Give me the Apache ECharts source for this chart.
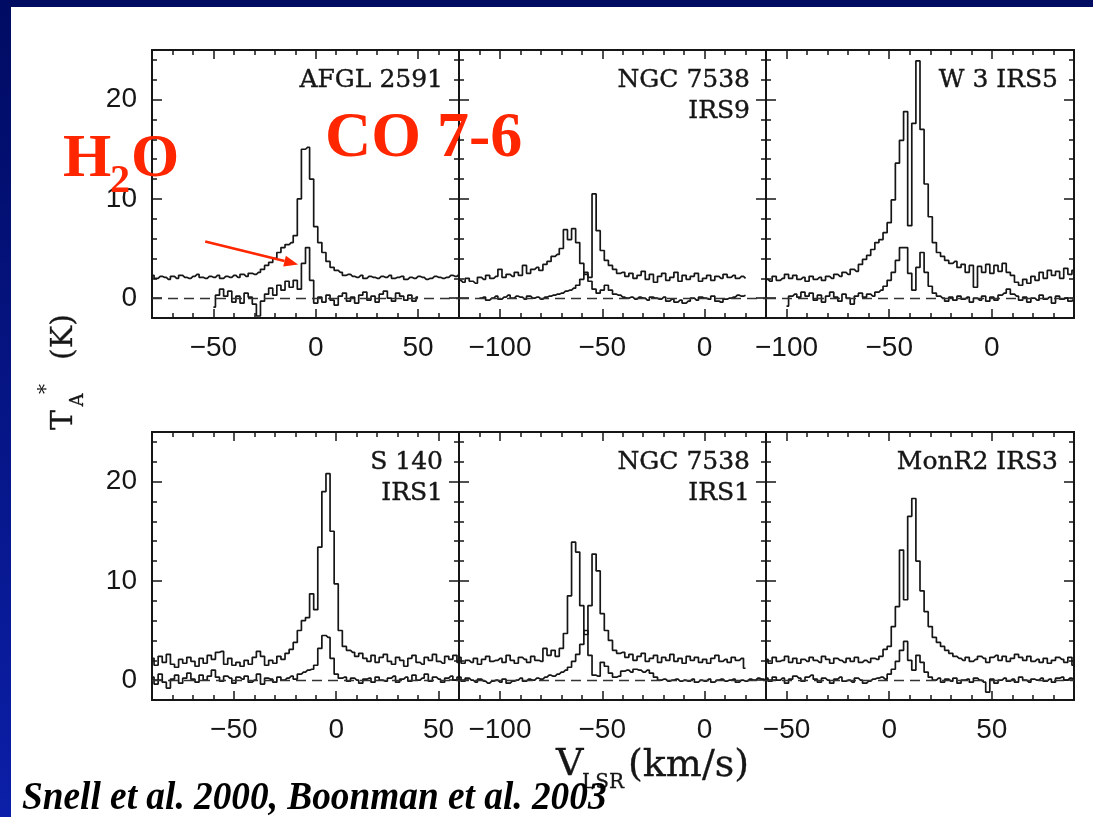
<!DOCTYPE html>
<html>
<head>
<meta charset="utf-8">
<script src="https://cdn.jsdelivr.net/npm/echarts@6/dist/echarts.min.js"></script>
<style>
  html, body { margin: 0; padding: 0; background: #000d65; }
  #chart { width: 1093px; height: 817px; }
</style>
</head>
<body>
<div id="chart"></div>
<script>
// CO 7-6 (upper trace, offset by ~2 K) and H2O (lower trace) spectra toward six
// massive young stellar objects. Antenna temperature T_A* in K, sampled on a
// regular velocity grid (km/s) that starts at the listed V_LSR.
const sourceNames = [
  ['AFGL 2591'], ['NGC 7538', 'IRS9'], ['W 3 IRS5'],
  ['S 140', 'IRS1'], ['NGC 7538', 'IRS1'], ['MonR2 IRS3']
];
const velocityRanges = [[-80, 70], [-120, 30], [-110, 40], [-90, 60], [-120, 30], [-60, 90]];
const velocityTicks = [[-50, 0, 50], [-100, -50, 0], [-100, -50, 0], [-50, 0, 50], [-100, -50, 0], [-50, 0, 50]];
const temperatureRange = [-2, 25];
const temperatureTicks = [0, 10, 20];
const channelWidth = 2;
const coStart = [-80, -120, -110, -90, -120, -60];
const h2oStart = [-50, -110, -100, -90, -120, -60];

const afglCO = [2.3, 2.0, 2.2, 2.1, 1.9, 2.2, 2.0, 2.3, 2.1, 2.0, 2.2, 2.4, 2.1, 2.0, 2.2, 2.1, 2.3, 2.0, 2.2, 2.1,
  2.3, 2.1, 2.4, 2.2, 2.5, 2.4, 2.6, 2.9, 3.3, 3.6, 4.0, 4.6, 5.1, 5.4, 5.6, 6.3, 10.0, 15.0, 15.2, 12.0,
  7.2, 5.6, 4.6, 3.7, 3.1, 2.8, 2.6, 2.3, 2.4, 2.2, 2.1, 2.3, 2.0, 2.2, 2.1, 2.0, 2.2, 2.1, 2.3, 2.0,
  2.1, 2.2, 1.9, 2.1, 2.0, 2.2, 2.1, 1.9, 2.0, 2.2, 2.1, 2.0, 2.1, 2.3, 2.2, 2.4];
const afglH2O = [-0.9, 0.3, 0.9, 0.2, 0.7, -0.4, 0.2, -0.5, 0.5, 0.1, -0.6, -1.8, -0.3, 0.4, 1.0, 0.3, 1.3, 0.8, 1.7, 1.1,
  1.8, 0.9, 3.5, 5.1, 1.8, -0.5, 0.1, -0.4, 0.3, -0.2, -0.7, 0.2, 0.5, -0.3, 0.1, -0.5, 0.3, 0.6, -0.2, 0.2,
  -0.4, 0.4, 0.7, 0.0, -0.3, 0.5, 0.2, -0.2, 0.3, -0.3, 0.1];

const irs9CO = [1.8, 1.6, 2.0, 1.7, 1.5, 2.1, 1.9, 2.3, 2.0, 2.2, 2.9, 2.1, 2.4, 2.2, 2.6, 2.3, 3.3, 2.5, 2.9, 3.1,
  2.8, 3.4, 3.7, 4.2, 4.4, 5.0, 6.9, 5.9, 7.0, 5.6, 3.5, 2.4, 2.1, 10.5, 6.8, 4.8, 3.8, 3.3, 2.9, 2.5,
  2.6, 2.2, 2.5, 2.0, 2.3, 2.7, 1.9, 2.4, 1.6, 2.2, 2.5, 1.8, 2.1, 2.6, 1.7, 2.3, 1.9, 2.2, 2.5, 1.7,
  2.0, 2.3, 1.8, 2.2, 2.0, 2.4, 2.1, 2.3, 2.0, 2.2, 2.0];
const irs9H2O = [0.0, 0.1, -0.2, 0.0, 0.2, -0.1, 0.1, 0.3, 0.0, 0.2, 0.1, -0.1, 0.2, 0.0, 0.1, -0.1, 0.1, 0.2, 0.3, 0.4,
  0.5, 0.7, 0.8, 1.0, 1.3, 1.9, 2.6, 1.7, 0.9, 0.5, 0.8, 1.3, 0.8, 0.4, 0.3, 0.1, 0.0, 0.1, -0.1, 0.1,
  0.0, -0.2, 0.1, 0.0, -0.1, 0.1, -0.3, -0.1, -0.4, -0.2, -0.5, -0.3, 0.0, -0.2, 0.1, 0.0, -0.1, 0.2, -0.3, -0.4,
  -0.1, 0.0, 0.1, 0.3, 0.2, 0.3];

const w3CO = [1.9, 1.7, 2.2, 1.8, 2.0, 2.4, 2.0, 2.3, 1.9, 2.1, 1.7, 2.2, 1.9, 2.1, 1.8, 2.2, 2.0, 2.4, 2.2, 2.6,
  2.4, 2.9, 2.7, 3.4, 3.9, 4.3, 4.9, 5.6, 5.9, 6.6, 7.6, 9.9, 13.6, 15.9, 18.8, 7.3, 17.6, 23.9, 17.0, 11.5,
  8.2, 5.6, 4.6, 4.2, 3.8, 3.5, 3.7, 3.1, 3.4, 2.6, 3.3, 1.1, 3.2, 2.6, 3.4, 2.5, 3.3, 2.7, 3.5, 2.6,
  2.3, 1.6, 1.3, 1.9, 1.5, 2.2, 1.8, 2.6, 2.0, 2.8, 2.3, 2.7, 2.0, 3.0, 2.4, 2.8];
const w3H2O = [-0.8, 0.2, 0.4, 0.1, 0.6, 0.2, 0.5, -0.2, 0.3, -0.4, 0.2, 0.6, 0.1, -0.3, 0.4, 0.0, -0.6, 0.2, 0.5, 0.1,
  0.4, 0.2, 0.6, 0.8, 1.2, 1.8, 2.6, 3.8, 5.1, 5.1, 2.5, 0.8, 3.1, 4.6, 2.6, 1.2, 0.5, 0.2, 0.0, -0.3,
  0.1, -0.2, 0.2, -0.1, 0.1, -0.4, 0.0, -0.2, 0.2, -0.3, 0.1, -0.2, 0.3, 0.5, 0.9, 0.4, 0.2, -0.2, 0.1, -0.4,
  0.0, -0.2, 0.3, -0.1, 0.1, -0.5, 0.2, -0.1, 0.0, -0.3, -0.1];

const s140CO = [2.2, 1.5, 2.4, 1.8, 2.6, 1.6, 1.3, 2.1, 1.7, 2.3, 1.9, 1.4, 2.2, 1.7, 2.5, 2.1, 2.8, 2.9, 1.6, 2.2,
  1.5, 1.8, 1.4, 2.0, 1.6, 2.3, 2.9, 2.4, 1.5, 2.0, 1.7, 2.4, 2.1, 2.7, 3.1, 3.8, 5.0, 6.0, 6.3, 8.7,
  7.1, 13.4, 19.0, 20.8, 15.0, 9.7, 5.0, 3.4, 3.0, 2.8, 2.4, 2.7, 2.2, 1.9, 2.5, 1.8, 2.3, 2.6, 1.9, 1.6,
  2.3, 2.0, 1.4, 2.2, 2.5, 1.8, 1.6, 2.3, 2.0, 2.6, 1.9, 1.7, 2.4, 2.1, 2.5, 1.8];
const s140H2O = [0.3, -0.4, 0.6, -0.2, -0.8, 0.1, 0.5, -0.3, 0.2, 0.7, 0.1, -0.2, 0.5, 0.0, 0.4, 1.0, 0.3, -0.1, 0.4, 0.2,
  -0.3, 0.3, 0.1, 0.4, -0.2, 0.0, 0.6, -0.4, 0.2, 0.1, -0.2, 0.3, 0.0, 0.2, 0.4, 0.1, 0.6, 0.8, 1.0, 1.1,
  1.5, 3.2, 4.5, 4.3, 2.2, 0.6, 0.2, 0.3, -0.1, 0.2, 0.0, -0.3, 0.1, 0.2, -0.2, 0.3, 0.0, -0.1, 0.2, 0.4,
  -0.2, 0.1, 0.3, -0.1, 0.5, 0.0, 0.2, 0.6, -0.1, 0.3, 0.1, -0.2, 0.2, 0.4, 0.0, 0.3];

const irs1CO = [2.3, 1.7, 2.0, 1.8, 2.2, 1.6, 2.1, 2.4, 1.9, 2.0, 2.2, 1.8, 2.5, 2.0, 1.7, 2.3, 2.1, 1.8, 2.4, 2.0,
  1.9, 3.2, 2.5, 3.0, 2.4, 3.2, 4.7, 8.5, 13.9, 12.9, 7.5, 4.6, 7.5, 12.7, 11.0, 6.7, 5.0, 4.0, 3.0, 2.7,
  2.8, 2.3, 2.6, 2.0, 2.4, 2.7, 1.9, 2.2, 2.5, 1.8, 2.3, 2.0, 2.6, 1.9, 2.2, 1.7, 2.4, 2.0, 2.3, 1.8,
  2.1, 1.7, 2.2, 2.5, 1.9, 2.1, 1.8, 2.3, 2.0, 2.2, 1.2];
const irs1H2O = [0.3, -0.1, 0.2, 0.0, -0.2, 0.1, -0.1, -0.3, -0.1, 0.0, -0.2, 0.1, -0.3, -0.1, 0.0, 0.2, -0.1, 0.1, 0.0, 0.2,
  0.1, 0.3, 0.5, 0.4, 0.6, 0.8, 1.0, 1.3, 1.9, 2.6, 3.6, 5.0, 2.5, 0.5, 0.4, 1.8, 1.4, 0.7, 0.3, 0.4,
  0.9, 1.0, 0.8, 1.1, 1.0, 0.8, 1.0, 0.7, 0.3, 0.0, 0.1, -0.1, 0.0, 0.1, -0.1, 0.0, -0.1, 0.1, -0.2, 0.0,
  -0.1, 0.1, -0.2, 0.0, 0.1, -0.1, 0.0, 0.1, -0.2, 0.0, -0.1, 0.1, 0.0, 0.2, 0.1, 0.0];

const monr2CO = [2.1, 1.7, 2.3, 1.9, 2.0, 2.4, 1.8, 2.2, 1.7, 2.1, 1.9, 2.3, 2.0, 1.8, 2.4, 2.1, 1.7, 2.2, 2.0, 1.8,
  2.2, 1.9, 2.3, 1.8, 2.0, 1.8, 2.2, 2.1, 2.4, 3.1, 3.4, 5.4, 7.4, 13.1, 8.1, 16.5, 18.3, 12.0, 9.0, 6.9,
  5.4, 4.3, 3.8, 3.4, 3.0, 2.7, 2.4, 2.2, 2.0, 2.3, 1.9, 2.1, 2.4, 2.2, 1.8, 2.3, 2.5, 2.0, 2.4, 1.9,
  2.2, 2.6, 2.3, 2.0, 2.4, 1.9, 2.1, 1.8, 2.2, 1.7, 2.0, 2.3, 2.1, 1.8, 2.3, 1.5];
const monr2H2O = [0.2, -0.1, 0.3, 0.0, 0.2, -0.3, 0.1, 0.4, 0.2, -0.1, 0.3, 0.5, 0.1, -0.2, 0.2, 0.0, -0.3, 0.1, 0.3, -0.1,
  0.0, -0.2, 0.2, 0.0, -0.3, -0.1, 0.1, 0.2, 0.3, 0.1, 0.6, 1.1, 1.9, 3.0, 3.9, 2.0, 1.0, 2.5, 1.8, 0.8,
  0.3, 0.0, 0.2, -0.2, 0.1, -0.1, 0.2, -0.3, 0.0, 0.1, -0.2, 0.2, 0.0, -0.2, -1.2, 0.1, -0.3, 0.0, 0.2, -0.1,
  0.1, -0.2, 0.3, 0.0, -0.2, 0.1, 0.0, 0.2, -0.1, 0.1, -0.2, 0.2, 0.3, 0.0, 0.2, 0.1];

const coSpectra = [afglCO, irs9CO, w3CO, s140CO, irs1CO, monr2CO];
const h2oSpectra = [afglH2O, irs9H2O, w3H2O, s140H2O, irs1H2O, monr2H2O];

// H2O line in AFGL 2591 that the annotation arrow points to (velocity, T)
const arrowFrom = [-54, 5.7];
const arrowTo = [-8.6, 3.4];

// ---------------------------------------------------------------------------
const ink = '#161616';
const red = '#ff2600';
const labelFont = 'DejaVu Serif';
const colLeft = [152, 459, 766];
const colWidth = [307, 307, 308];
const rowTop = [50, 432];
const panelHeight = 268;

const minus = v => (v < 0 ? '\u2212' + Math.abs(v) : String(v));
const toPairs = (start, values) => values.map((t, i) => [start + i * channelWidth, t]);

const tickLine = { color: ink, width: 1.5 };
const tickFont = { fontFamily: 'Liberation Sans', fontSize: 28, color: ink };

const grids = [], xAxes = [], yAxes = [], series = [], panelBoxes = [];

for (let i = 0; i < 6; i++) {
  const col = i % 3, row = Math.floor(i / 3);
  const box = { left: colLeft[col], top: rowTop[row], width: colWidth[col], height: panelHeight };
  panelBoxes.push(box);
  grids.push(Object.assign({ show: true, borderColor: ink, borderWidth: 2, backgroundColor: 'transparent' }, box));

  const [vMin, vMax] = velocityRanges[i];
  const xBase = { type: 'value', gridIndex: i, min: vMin, max: vMax,
    splitLine: { show: false }, axisLine: { show: false, onZero: false } };
  const yBase = { type: 'value', gridIndex: i, min: temperatureRange[0], max: temperatureRange[1],
    splitLine: { show: false }, axisLine: { show: false, onZero: false } };

  // bottom: minor ticks every 10 km/s with labels, then longer major ticks
  xAxes.push(Object.assign({}, xBase, { position: 'bottom', interval: 10,
    axisTick: { inside: true, length: 5, lineStyle: tickLine },
    axisLabel: Object.assign({ show: true, margin: 16,
      formatter: v => (velocityTicks[i].indexOf(v) >= 0 ? minus(v) : '') }, tickFont) }));
  xAxes.push(Object.assign({}, xBase, { position: 'bottom',
    axisTick: { inside: true, length: 9, customValues: velocityTicks[i], lineStyle: tickLine },
    axisLabel: { show: false } }));
  xAxes.push(Object.assign({}, xBase, { position: 'top', interval: 10,
    axisTick: { inside: true, length: 5, lineStyle: tickLine }, axisLabel: { show: false } }));
  xAxes.push(Object.assign({}, xBase, { position: 'top',
    axisTick: { inside: true, length: 9, customValues: velocityTicks[i], lineStyle: tickLine },
    axisLabel: { show: false } }));

  yAxes.push(Object.assign({}, yBase, { position: 'left', interval: 2,
    axisTick: { inside: true, length: 5, lineStyle: tickLine },
    axisLabel: Object.assign({ show: col === 0, margin: 15,
      formatter: v => (temperatureTicks.indexOf(v) >= 0 ? String(v) : '') }, tickFont) }));
  yAxes.push(Object.assign({}, yBase, { position: 'left',
    axisTick: { inside: true, length: 10, customValues: temperatureTicks, lineStyle: tickLine },
    axisLabel: { show: false } }));
  yAxes.push(Object.assign({}, yBase, { position: 'right', interval: 2,
    axisTick: { inside: true, length: 5, lineStyle: tickLine }, axisLabel: { show: false } }));
  yAxes.push(Object.assign({}, yBase, { position: 'right',
    axisTick: { inside: true, length: 10, customValues: temperatureTicks, lineStyle: tickLine },
    axisLabel: { show: false } }));

  const lineBase = { type: 'line', xAxisIndex: 4 * i, yAxisIndex: 4 * i, step: 'middle',
    showSymbol: false, symbol: 'none', silent: true, z: 3,
    lineStyle: { color: ink, width: 1.7 } };
  series.push(Object.assign({}, lineBase, { name: 'CO 7-6 ' + sourceNames[i].join(' '),
    data: toPairs(coStart[i], coSpectra[i]) }));
  series.push(Object.assign({}, lineBase, { name: 'H2O ' + sourceNames[i].join(' '),
    data: toPairs(h2oStart[i], h2oSpectra[i]),
    markLine: { silent: true, symbol: ['none', 'none'], label: { show: false },
      lineStyle: { color: '#333', type: [10, 6], width: 1.4 },
      data: [{ yAxis: 0 }] } }));
}

const chart = echarts.init(document.getElementById('chart'), null, { renderer: 'canvas' });
chart.setOption({
  animation: false,
  backgroundColor: new echarts.graphic.LinearGradient(0, 0, 0, 1, [
    { offset: 0, color: '#000b62' }, { offset: 1, color: '#0b1fa8' }
  ]),
  grid: grids,
  xAxis: xAxes,
  yAxis: yAxes,
  series: series
});

// --------------------------- annotations -----------------------------------
function text(str, x, y, opts) {
  const o = opts || {};
  const style = {
    text: str, x: 0, y: 0,
    fill: o.fill || ink,
    fontFamily: o.fontFamily || labelFont,
    fontSize: o.fontSize || 25,
    fontWeight: o.fontWeight || 'normal',
    fontStyle: o.fontStyle || 'normal',
    textAlign: o.align || 'left', align: o.align || 'left',
    textVerticalAlign: 'middle', verticalAlign: 'middle'
  };
  if (o.stroke) { style.stroke = o.stroke; style.lineWidth = o.lineWidth || 0.4; }
  return { type: 'text', x: x, y: y, rotation: o.rotation || 0,
    scaleX: o.scaleX || 1, scaleY: 1, z: 50, silent: true, style: style };
}

const graphics = [
  { type: 'rect', shape: { x: 11, y: 7, width: 1082, height: 810 },
    style: { fill: '#ffffff' }, z: -100, silent: true }
];

// source names in the upper right corner of each panel
panelBoxes.forEach((b, i) => {
  sourceNames[i].forEach((line, k) => {
    graphics.push(text(line, b.left + b.width - 16, b.top + 30 + 31 * k,
      { fontSize: 25, align: 'right', stroke: ink, lineWidth: 0.4 }));
  });
});

// axis titles: V_LSR (km/s) and T_A* (K)
graphics.push(text('V', 556, 765, { fontSize: 38, stroke: ink, lineWidth: 0.3 }));
graphics.push(text('LSR', 582, 783, { fontSize: 20, stroke: ink, lineWidth: 0.3 }));
graphics.push(text('(km/s)', 628, 766, { fontSize: 38, stroke: ink, lineWidth: 0.3 }));

const up = Math.PI / 2;
graphics.push(text('T', 64.5, 420, { fontSize: 30, align: 'center', rotation: up, stroke: ink, lineWidth: 0.3 }));
graphics.push(text('A', 78, 400, { fontSize: 18, align: 'center', rotation: up, stroke: ink, lineWidth: 0.3 }));
graphics.push(text('*', 47, 389, { fontSize: 20, align: 'center', rotation: up }));
graphics.push(text('(K)', 64.5, 337, { fontSize: 30, align: 'center', rotation: up, stroke: ink, lineWidth: 0.3 }));

// red line labels
const serifBold = { fontFamily: 'Liberation Serif', fontWeight: 'bold', fill: red };
graphics.push(text('H', 63, 160, Object.assign({ fontSize: 62 }, serifBold)));
graphics.push(text('2', 110, 181.5, Object.assign({ fontSize: 40 }, serifBold)));
graphics.push(text('O', 131, 160, Object.assign({ fontSize: 62 }, serifBold)));
graphics.push(text('CO 7-6', 325, 139.5, Object.assign({ fontSize: 64 }, serifBold)));

// reference line at the bottom
graphics.push(text('Snell et al. 2000, Boonman et al. 2003', 22, 798,
  { fontFamily: 'Liberation Serif', fontWeight: 'bold', fontStyle: 'italic', fontSize: 41, scaleX: 0.91, fill: '#000' }));

// arrow from the label area to the H2O emission peak in the first panel
const p0 = chart.convertToPixel({ gridIndex: 0 }, arrowFrom);
const p1 = chart.convertToPixel({ gridIndex: 0 }, arrowTo);
const dx = p1[0] - p0[0], dy = p1[1] - p0[1];
const len = Math.sqrt(dx * dx + dy * dy);
const ux = dx / len, uy = dy / len;
const headLen = 14, headHalf = 5.5;
const bx = p1[0] - ux * headLen, by = p1[1] - uy * headLen;
graphics.push({ type: 'line', z: 60, silent: true,
  shape: { x1: p0[0], y1: p0[1], x2: bx, y2: by },
  style: { stroke: red, lineWidth: 2.6 } });
graphics.push({ type: 'polygon', z: 60, silent: true,
  shape: { points: [[p1[0], p1[1]], [bx - uy * headHalf, by + ux * headHalf], [bx + uy * headHalf, by - ux * headHalf]] },
  style: { fill: red } });

chart.setOption({ graphic: graphics });
</script>
</body>
</html>
